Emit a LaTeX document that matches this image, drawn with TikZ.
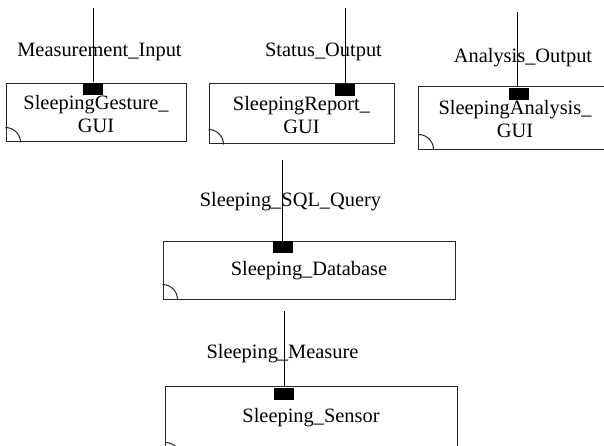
\documentclass[tikz,border=0pt]{standalone}
\usepackage{fontspec}
\setmainfont{Liberation Serif}
\begin{document}
\begin{tikzpicture}[x=1pt,y=-1pt,line width=1pt,
  comp/.style={draw=black!85,inner sep=0pt,align=center,font=\fontsize{20.4}{23}\selectfont},
  port/.style={fill=black,draw=none,minimum width=20pt,minimum height=12pt,inner sep=0pt},
  lbl/.style={inner sep=0pt,font=\fontsize{20.4}{23}\selectfont},
  txt/.style={inner sep=0pt,align=center,font=\fontsize{20.4}{23}\selectfont}]
\useasboundingbox (0,0) rectangle (604,446);
\clip (0,0) rectangle (604,446);
% components
\node[comp,minimum width=180pt,minimum height=58pt] (g1) at (96,113) {};
\node[txt] (g1t) at (96,114) {SleepingGesture\_\\GUI};
\node[comp,minimum width=185pt,minimum height=60pt] (g2) at (301.5,114) {};
\node[txt] (g2t) at (301.5,115) {SleepingReport\_\\GUI};
\node[comp,draw=none,minimum width=204pt,minimum height=62pt] (g3) at (521,118) {};
\draw[black!85] (g3.north east) -- (g3.north west) -- (g3.south west) -- (g3.south east);
\node[txt] (g3t) at (515,119) {SleepingAnalysis\_\\GUI};
\node[comp,minimum width=292pt,minimum height=58pt] (db) at (309,270) {};
\node[txt] (dbt) at (309,271) {Sleeping\_Database};
\node[comp,draw=none,minimum width=291pt,minimum height=70pt] (se) at (311.5,422) {};
\draw[black!85] (se.south west) -- (se.north west) -- (se.north east) -- (se.south east);
\node[txt] (set) at (311,418) {Sleeping\_Sensor};
% corner arcs
\foreach \n in {g1,g2,g3,db,se}{
  \draw[black!85] ([yshift=15pt]\n.south west) arc[start angle=90,end angle=0,radius=15pt];
}
% ports
\node[port] (p1) at (93,89) {};
\node[port] (p2) at (345,90.5) {};
\node[port] (p3) at (518.5,94) {};
\node[port] (p4) at (282.5,247) {};
\node[port] (p5) at (284,393.5) {};
% connector ends
\coordinate (t1) at (93,8);
\coordinate (t2) at (345,8);
\coordinate (t3) at (517,12);
\coordinate (t4) at (282,160);
\coordinate (t5) at (284,311);
\draw (t1) -- (t1 |- p1.north);
\draw (t2) -- (t2 |- p2.north);
\draw (t3) -- (t3 |- p3.north);
\draw (t4) -- (t4 |- p4.north);
\draw (t5) -- (t5 |- p5.north);
% labels
\node[lbl] (l1) at (99.5,52) {Measurement\_Input};
\node[lbl] (l2) at (323.5,52) {Status\_Output};
\node[lbl] (l3) at (523,58) {Analysis\_Output};
\node[lbl] (l4) at (290.5,202) {Sleeping\_SQL\_Query};
\node[lbl] (l5) at (282.5,354) {Sleeping\_Measure};
\end{tikzpicture}
\end{document}
